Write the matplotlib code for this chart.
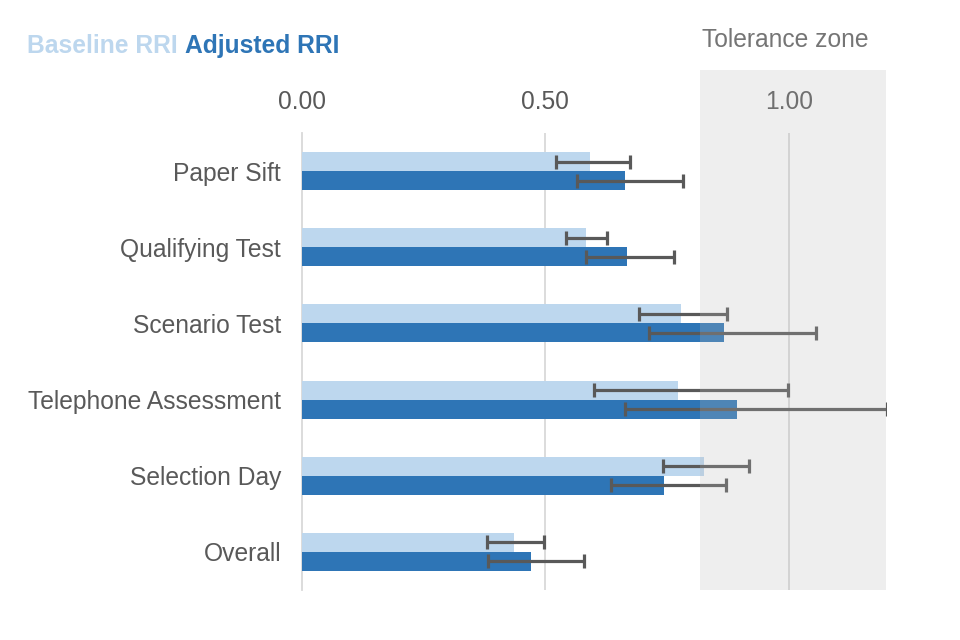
import matplotlib
matplotlib.use("Agg")
import matplotlib.pyplot as plt
import matplotlib.transforms as mtransforms
from matplotlib.patches import Rectangle
import numpy as np

plt.rcParams['font.family'] = ['Liberation Sans', 'DejaVu Sans']

categories = ["Paper Sift", "Qualifying Test", "Scenario Test",
              "Telephone Assessment", "Selection Day", "Overall"]
baseline = [0.592, 0.583, 0.778, 0.773, 0.826, 0.435]
baseline_lo = [0.521, 0.543, 0.692, 0.599, 0.742, 0.381]
baseline_hi = [0.674, 0.627, 0.874, 0.998, 0.919, 0.497]
adjusted = [0.664, 0.668, 0.868, 0.894, 0.743, 0.471]
adjusted_lo = [0.566, 0.584, 0.714, 0.664, 0.634, 0.383]
adjusted_hi = [0.782, 0.765, 1.057, 1.203, 0.872, 0.580]
tolerance = (0.817, 1.2)
xticks = [0.0, 0.5, 1.0]
xticklabels = ["0.00", "0.50", "1.00"]

C_BASE = "#bdd7ee"
C_ADJ = "#2e75b6"
C_TEXT = "#595959"
C_ERR = "#595959"
FS = 17.7

fig = plt.figure(figsize=(9.6, 6.4), dpi=100)
ax = fig.add_axes([302/960, 1-590/640, (886-302)/960, (590-133)/640])

y = np.arange(len(categories))
h = 0.25
ax.barh(y - h/2, baseline, height=h, color=C_BASE, zorder=2)
ax.barh(y + h/2, adjusted, height=h, color=C_ADJ, zorder=2)

b = np.array(baseline); a = np.array(adjusted)
ax.errorbar(b, y - h/2, xerr=[b - np.array(baseline_lo), np.array(baseline_hi) - b],
            fmt='none', ecolor=C_ERR, elinewidth=2.3, capsize=5, capthick=2.3, zorder=3)
ax.errorbar(a, y + h/2, xerr=[a - np.array(adjusted_lo), np.array(adjusted_hi) - a],
            fmt='none', ecolor=C_ERR, elinewidth=2.3, capsize=5, capthick=2.3, zorder=3)

trans = mtransforms.blended_transform_factory(ax.transData, ax.transAxes)
top_ext = (133 - 70) / (590 - 133)
ax.add_patch(Rectangle((tolerance[0], 0), tolerance[1] - tolerance[0], 1 + top_ext,
                       transform=trans, facecolor="#b8b8b8", alpha=0.24,
                       edgecolor='none', clip_on=False, zorder=4))

for xv in xticks[1:]:
    ax.axvline(xv, color="#d9d9d9", lw=1.3, zorder=1)

ax.set_xlim(0, 1.2)
ax.set_ylim(len(categories) - 0.5, -0.5)
ax.xaxis.tick_top()
ax.set_xticks(xticks)
ax.set_xticklabels(xticklabels, fontsize=FS, color=C_TEXT)
ax.set_yticks(y)
ax.set_yticklabels(categories, fontsize=FS, color=C_TEXT)
ax.tick_params(axis='x', length=0, pad=14)
ax.tick_params(axis='y', length=0, pad=15)
for s in ['top', 'right', 'bottom']:
    ax.spines[s].set_visible(False)
ax.spines['left'].set_color("#d9d9d9")
ax.spines['left'].set_linewidth(1.3)
ax.spines['left'].set_zorder(1)

fig.text(178/960, 1-46/640, "Baseline RRI", color=C_BASE, fontsize=FS,
         fontweight='bold', va='center', ha='right')
fig.text(185/960, 1-46/640, "Adjusted RRI", color=C_ADJ, fontsize=FS,
         fontweight='bold', va='center', ha='left')
fig.text(785.5/960, 1-40/640, "Tolerance zone", color="#757575", fontsize=FS,
         va='center', ha='center')

fig.savefig("out.png", dpi=100)
